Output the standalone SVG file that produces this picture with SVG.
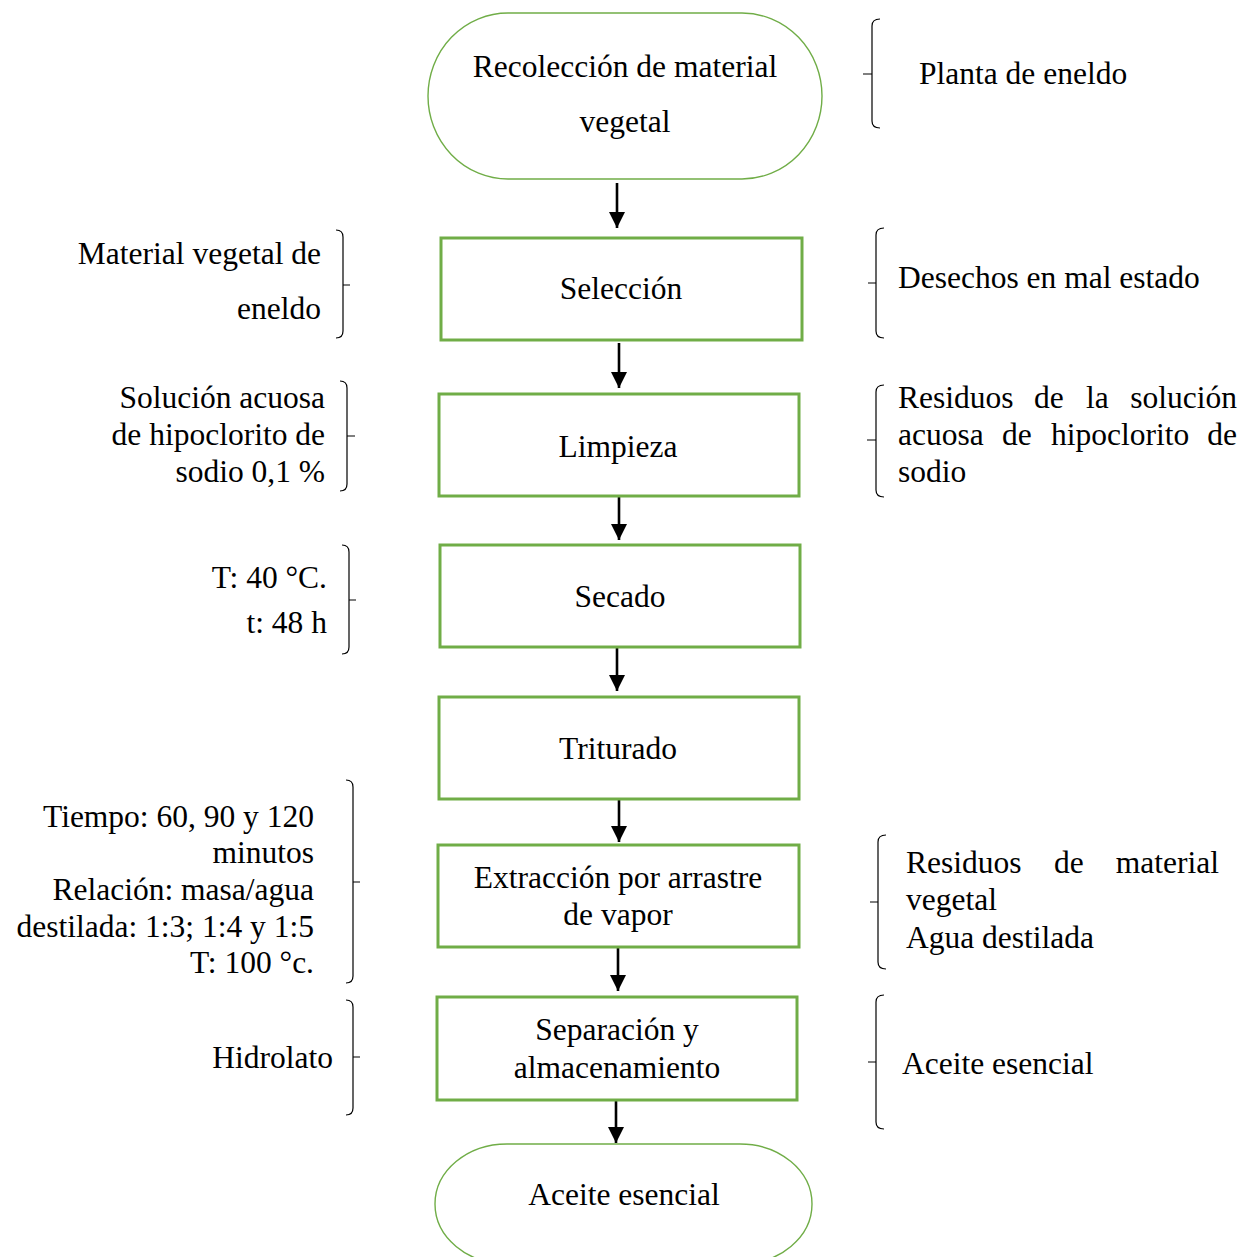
<svg xmlns="http://www.w3.org/2000/svg" width="1256" height="1257" viewBox="0 0 1256 1257">
<style>
text{font-family:"Liberation Serif","Times New Roman",serif;font-size:31.5px;fill:#000}
.c{text-anchor:middle}
.r{text-anchor:end}
.box{fill:#fff;stroke:#70AD47;stroke-width:3}
.term{fill:#fff;stroke:#70AD47;stroke-width:1.4}
.br{fill:none;stroke:#000;stroke-width:1.2}
.arr{stroke:#000;stroke-width:2.6;fill:none;marker-end:url(#ah)}
</style>
<defs>
<marker id="ah" markerUnits="userSpaceOnUse" markerWidth="18" markerHeight="18" viewBox="0 0 18 18" refX="16" refY="9" orient="auto">
<path d="M0,1 L16,9 L0,17 Z" fill="#000"/>
</marker>
</defs>
<rect width="1256" height="1257" fill="#fff"/>
<g id="connectors">
<line class="arr" x1="617" y1="183" x2="617" y2="228"/>
<line class="arr" x1="619" y1="343" x2="619" y2="388"/>
<line class="arr" x1="619" y1="497" x2="619" y2="540"/>
<line class="arr" x1="617" y1="648" x2="617" y2="691"/>
<line class="arr" x1="619" y1="800" x2="619" y2="842"/>
<line class="arr" x1="618" y1="948" x2="618" y2="991"/>
<line class="arr" x1="616" y1="1101" x2="616" y2="1143"/>
</g>
<g id="n-recoleccion">
<rect class="term" x="428" y="13" width="394" height="166" rx="80" ry="83"/>
<text class="c" x="625" y="77">Recolección de material</text>
<text class="c" x="625" y="132">vegetal</text>
</g>
<g id="n-seleccion">
<rect class="box" x="441" y="238" width="361" height="102"/>
<text class="c" x="621" y="299">Selección</text>
</g>
<g id="n-limpieza">
<rect class="box" x="439" y="394" width="360" height="102"/>
<text class="c" x="618" y="457">Limpieza</text>
</g>
<g id="n-secado">
<rect class="box" x="440" y="545" width="360" height="102"/>
<text class="c" x="620" y="607">Secado</text>
</g>
<g id="n-triturado">
<rect class="box" x="439" y="697" width="360" height="102"/>
<text class="c" x="618" y="759">Triturado</text>
</g>
<g id="n-extraccion">
<rect class="box" x="438" y="845" width="361" height="102"/>
<text class="c" x="618" y="888">Extracción por arrastre</text>
<text class="c" x="618" y="925">de vapor</text>
</g>
<g id="n-separacion">
<rect class="box" x="437" y="997" width="360" height="103"/>
<text class="c" x="617" y="1040">Separación y</text>
<text class="c" x="617" y="1078">almacenamiento</text>
</g>
<g id="n-aceite">
<rect class="term" x="435" y="1144" width="377" height="120" rx="72" ry="60"/>
<text class="c" x="624" y="1205">Aceite esencial</text>
</g>
<g id="a-planta">
<path class="br" d="M880,19 Q872,19 872,26 L872,121 Q872,128 880,128 M863,74 L872,74"/>
<text x="919" y="84">Planta de eneldo</text>
</g>
<g id="a-material">
<path class="br" d="M336,230 Q343,230 343,237 L343,331 Q343,338 336,338 M343,285 L350,285"/>
<text class="r" x="321" y="264">Material vegetal de</text>
<text class="r" x="321" y="319">eneldo</text>
</g>
<g id="a-desechos">
<path class="br" d="M884,228 Q876,228 876,235 L876,331 Q876,338 884,338 M868,283 L876,283"/>
<text x="898" y="288">Desechos en mal estado</text>
</g>
<g id="a-solucion">
<path class="br" d="M340,381 Q347,381 347,388 L347,484 Q347,491 340,491 M347,436 L355,436"/>
<text class="r" x="325" y="408">Solución acuosa</text>
<text class="r" x="325" y="445">de hipoclorito de</text>
<text class="r" x="325" y="482">sodio 0,1 %</text>
</g>
<g id="a-residuos-sol">
<path class="br" d="M884,385 Q876,385 876,392 L876,490 Q876,497 884,497 M867,440 L876,440"/>
<text y="408"><tspan x="898">Residuos</tspan><tspan x="1034">de</tspan><tspan x="1086">la</tspan><tspan x="1237" text-anchor="end">solución</tspan></text>
<text y="445"><tspan x="898">acuosa</tspan><tspan x="1002">de</tspan><tspan x="1051">hipoclorito</tspan><tspan x="1237" text-anchor="end">de</tspan></text>
<text x="898" y="482">sodio</text>
</g>
<g id="a-secado">
<path class="br" d="M342,545 Q349,545 349,552 L349,647 Q349,654 342,654 M349,600 L356,600"/>
<text class="r" x="327" y="588">T: 40 °C.</text>
<text class="r" x="327" y="633">t: 48 h</text>
</g>
<g id="a-extraccion">
<path class="br" d="M346,780 Q353,780 353,787 L353,976 Q353,983 346,983 M353,882 L360,882"/>
<text class="r" x="314" y="827">Tiempo: 60, 90 y 120</text>
<text class="r" x="314" y="863">minutos</text>
<text class="r" x="314" y="900">Relación: masa/agua</text>
<text class="r" x="314" y="937">destilada: 1:3; 1:4 y 1:5</text>
<text class="r" x="314" y="973">T: 100 °c.</text>
</g>
<g id="a-residuos-mat">
<path class="br" d="M886,835 Q878,835 878,842 L878,962 Q878,969 886,969 M870,902 L878,902"/>
<text y="873"><tspan x="906">Residuos</tspan><tspan x="1054">de</tspan><tspan x="1219" text-anchor="end">material</tspan></text>
<text x="906" y="910">vegetal</text>
<text x="906" y="948">Agua destilada</text>
</g>
<g id="a-hidrolato">
<path class="br" d="M346,1000 Q353,1000 353,1007 L353,1108 Q353,1115 346,1115 M353,1057 L360,1057"/>
<text class="r" x="333" y="1068">Hidrolato</text>
</g>
<g id="a-aceite">
<path class="br" d="M884,995 Q876,995 876,1002 L876,1122 Q876,1129 884,1129 M868,1062 L876,1062"/>
<text x="902" y="1074">Aceite esencial</text>
</g>
</svg>
